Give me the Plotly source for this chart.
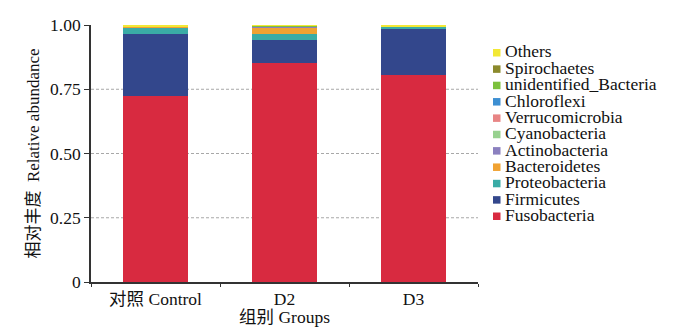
import plotly.graph_objects as go

# Groups on the x axis
groups = ["对照 Control", "D2", "D3"]

# Phyla, stacked bottom to top
phyla = ["Fusobacteria", "Firmicutes", "Proteobacteria", "Bacteroidetes",
         "Actinobacteria", "Cyanobacteria", "Verrucomicrobia", "Chloroflexi",
         "unidentified_Bacteria", "Spirochaetes", "Others"]

# Relative abundance per phylum, one value per group
fusobacteria = [0.724, 0.851, 0.805]
firmicutes = [0.241, 0.091, 0.179]
proteobacteria = [0.027, 0.024, 0.010]
bacteroidetes = [0.002, 0.026, 0.0004]
actinobacteria = [0.0005, 0.003, 0.0002]
cyanobacteria = [0.0001, 0.0003, 0.0001]
verrucomicrobia = [0.0001, 0.0003, 0.0001]
chloroflexi = [0.0001, 0.0003, 0.0001]
unidentified_bacteria = [0.0001, 0.0003, 0.0001]
spirochaetes = [0.0001, 0.0005, 0.0001]
others = [0.005, 0.003, 0.006]

abundance = [fusobacteria, firmicutes, proteobacteria, bacteroidetes,
             actinobacteria, cyanobacteria, verrucomicrobia, chloroflexi,
             unidentified_bacteria, spirochaetes, others]

colors = ["#d82a40", "#33478c", "#3aaca6", "#f0a232", "#8b80bf", "#97d18f",
          "#e88585", "#3d8fd2", "#7cc13c", "#8b8a2c", "#f2e835"]

yticks = [0, 0.25, 0.5, 0.75, 1.0]
yticklabels = ["0", "0.25", "0.50", "0.75", "1.00"]

FONT = "Liberation Serif, Times New Roman, Noto Sans CJK SC, serif"

fig = go.Figure()
for name, vals, col in zip(phyla, abundance, colors):
    fig.add_trace(go.Bar(x=groups, y=vals, name=name, marker_color=col,
                         marker_line_width=0, width=0.51, showlegend=False))

# plot-area geometry in pixels
W, H = 700, 327
L, R, T, B = 91, 222, 25, 45
pw, ph = W - L - R, H - T - B

def px_x(px):
    return (px - L) / pw

def px_y(py):
    return (H - B - py) / ph

shapes = []
# dotted horizontal guides at the inner ticks
for v in yticks[1:-1]:
    shapes.append(dict(type="line", xref="paper", yref="y", x0=0, x1=1, y0=v, y1=v,
                       line=dict(color="#a8a8a8", width=1, dash="3px,2px"), layer="below"))

# legend: Others on top, Fusobacteria at the bottom
annotations = []
legend_items = list(zip(phyla, colors))[::-1]
y0, step = 51.5, 16.35
for i, (name, col) in enumerate(legend_items):
    cy = y0 + i * step
    shapes.append(dict(type="rect", xref="paper", yref="paper",
                       x0=px_x(493), x1=px_x(500.5), y0=px_y(cy + 5), y1=px_y(cy - 2.5),
                       fillcolor=col, line=dict(width=0)))
    annotations.append(dict(text=name, xref="paper", yref="paper", x=px_x(503), y=px_y(cy),
                            xanchor="left", yanchor="middle", showarrow=False,
                            font=dict(family=FONT, size=17.5, color="#111")))

fig.update_layout(
    barmode="stack",
    width=W, height=H,
    margin=dict(l=L, r=R, t=T, b=B, pad=0, autoexpand=False),
    plot_bgcolor="white", paper_bgcolor="white",
    font=dict(family=FONT, size=17, color="#111"),
    shapes=shapes, annotations=annotations,
    showlegend=False,
    bargap=0.49,
)
fig.update_xaxes(
    range=[-0.5, 2.5], showline=True, linecolor="#333", linewidth=1.6,
    ticks="outside", tickson="boundaries", ticklen=3, tickcolor="#333",
    showgrid=False, tickfont=dict(size=17.5), automargin=False,
    title=dict(text="组别 Groups", font=dict(size=17.5), standoff=0),
)
fig.update_yaxes(
    range=[0, 1.0], showline=True, linecolor="#333", linewidth=1.6,
    ticks="outside", ticklen=5, tickcolor="#333",
    tickvals=yticks, ticktext=yticklabels, showgrid=False, zeroline=False,
    tickfont=dict(size=17.5), automargin=False,
    title=dict(text="相对丰度  Relative abundance", font=dict(size=17), standoff=6),
)

fig.write_html("out.html")
